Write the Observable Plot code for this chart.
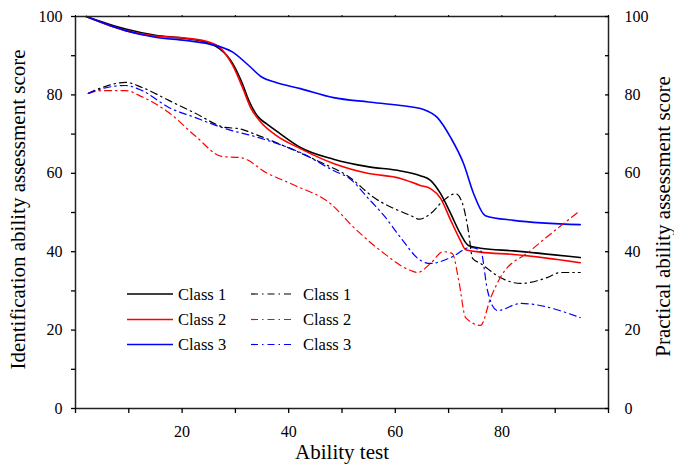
<!DOCTYPE html>
<html><head><meta charset="utf-8">
<script src="https://cdn.jsdelivr.net/npm/d3@7"></script>
<script src="https://cdn.jsdelivr.net/npm/@observablehq/plot@0.6"></script>
<style>body{margin:0;background:#fff}</style>
</head><body><div id="chart"></div>
<script>
// Identification ability assessment score (solid, left axis)
const c1SolidX = [2, 9.4, 15, 20.6, 25, 27, 29.5, 31.3, 32.5, 34.4, 36, 38, 42.2, 48.4, 54.8, 61, 64.7, 66.6, 68.5, 70.4, 72.2, 73.7, 76, 82.2, 94.7];
const c1SolidY = [100, 96.8, 95.2, 94.4, 93.2, 91.8, 88, 82.9, 78.6, 74.2, 72.5, 70.5, 66.6, 63.6, 61.7, 60.6, 59.4, 58.2, 54.8, 49.7, 44.6, 41.6, 40.9, 40.2, 38.5];
const c2SolidX = [2, 9.4, 15, 20.6, 25, 27, 29.5, 31.3, 32.8, 35, 37.5, 42.2, 48.4, 54.8, 61, 64.7, 66.6, 68.5, 70.4, 72.2, 73.2, 76, 82.2, 94.7];
const c2SolidY = [100, 96.4, 95, 94.5, 93.5, 92.2, 87.5, 82, 76.9, 72.7, 69.8, 66.3, 62.5, 60, 58.7, 56.9, 56.1, 53.6, 48, 42.9, 40.5, 39.9, 39.3, 37.2];
const c3SolidX = [2, 9.4, 15, 20.6, 25, 29.5, 32.5, 35, 37.5, 42.2, 48.4, 55, 61, 65.3, 67.9, 70.4, 72.8, 74.7, 76.9, 82.2, 94.7];
const c3SolidY = [100, 96.4, 94.7, 93.9, 93, 90.9, 87.5, 84.5, 83.2, 81.6, 79.3, 78.2, 77.3, 76.3, 74.2, 69.1, 62.5, 54.8, 49.2, 48, 46.9];
// Practical ability assessment score (dash-dot, right axis)
const c1DashX = [2.4, 5, 9.4, 12.5, 17.5, 22.5, 28.1, 30.6, 34, 40.3, 46.5, 51, 56, 62.9, 64.5, 66.6, 69, 71.3, 72.6, 73.7, 74.5, 76, 79.7, 83.5, 88.5, 91, 94.7];
const c1DashY = [80.4, 81.9, 83.2, 81.9, 78.6, 75.3, 71.7, 71.4, 69.8, 66.3, 62.5, 59.4, 53.8, 49.2, 48.3, 49.7, 53, 54.8, 52.3, 45.4, 38.3, 37, 33.4, 31.9, 33.4, 34.7, 34.7];
const c2DashX = [2.4, 5, 9.4, 12.5, 17.5, 22.5, 27.5, 31, 36, 41, 47.8, 52.2, 57.2, 62.9, 64.2, 66.6, 69, 70.7, 71.9, 73.2, 76, 77.9, 79.7, 85.4, 94.7];
const c2DashY = [80.4, 81.1, 81.1, 79.5, 75.5, 69.5, 64.3, 64, 60, 57, 52.3, 46.2, 40.3, 35.2, 34.7, 37, 40, 39.5, 32.7, 23.2, 21.2, 28.3, 33.4, 40.3, 50.5];
const c3DashX = [2.4, 5, 9.4, 12.5, 17.5, 22.5, 28.1, 34.4, 36, 42.2, 48.4, 51.6, 54.8, 58, 61, 64.7, 66.6, 70.4, 74.1, 76, 77.3, 78.2, 79.2, 83.5, 94.7];
const c3DashY = [80.4, 81.6, 82.4, 81.1, 76.8, 74.2, 71.4, 69.1, 68.4, 65.3, 60.7, 58.5, 53.8, 49, 43.6, 37.8, 37, 38.5, 41.1, 40.3, 30.1, 26.3, 25, 26.8, 23.2];

const classNames = ["Class 1", "Class 2", "Class 3"];
const classColors = ["#000000", "#ff0000", "#0000ff"];
const xTicks = [0, 10, 20, 30, 40, 50, 60, 70, 80, 90, 100];
const xTickLabels = [20, 40, 60, 80];
const yTicks = [0, 10, 20, 30, 40, 50, 60, 70, 80, 90, 100];
const yTickLabels = [0, 20, 40, 60, 80, 100];
const xTitle = "Ability test";
const yLeftTitle = "Identification ability assessment score";
const yRightTitle = "Practical ability assessment score";

const DASH = "7,4,1.5,4";
function rows(xs, ys, key, color) { return xs.map((x, i) => ({x, y: ys[i], key, color})); }
const solidRows = [
  ...rows(c1SolidX, c1SolidY, "s1", classColors[0]),
  ...rows(c2SolidX, c2SolidY, "s2", classColors[1]),
  ...rows(c3SolidX, c3SolidY, "s3", classColors[2])
];
const dashRows = [
  ...rows(c1DashX, c1DashY, "d1", classColors[0]),
  ...rows(c2DashX, c2DashY, "d2", classColors[1]),
  ...rows(c3DashX, c3DashY, "d3", classColors[2])
];

const FONT = "Liberation Serif";
const plot = Plot.plot({
  width: 674, height: 467,
  marginLeft: 75, marginRight: 66, marginTop: 16, marginBottom: 59,
  style: {fontFamily: FONT, background: "#fff", color: "#000"},
  x: {domain: [0, 100]},
  y: {domain: [0, 100]},
  color: {type: "identity"},
  marks: [
    Plot.line(solidRows, {x: "x", y: "y", z: "key", stroke: "color", strokeWidth: 1.6, curve: "monotone-x"}),
    Plot.line(dashRows, {x: "x", y: "y", z: "key", stroke: "color", strokeWidth: 1.2, strokeDasharray: DASH, curve: "monotone-x"}),
    Plot.frame({stroke: "#222", strokeWidth: 1.5}),
    Plot.axisX({ticks: xTicks, tickSize: 5, tickPadding: 12, fontSize: 16, fontFamily: FONT, label: null,
      tickFormat: d => xTickLabels.includes(d) ? String(d) : "", strokeWidth: 1.3}),
    Plot.axisX({anchor: "top", ticks: xTicks, tickSize: 2, tickFormat: () => "", label: null}),
    Plot.axisY({anchor: "left", ticks: yTicks, tickSize: 4, tickPadding: 9, fontSize: 16, fontFamily: FONT, label: null,
      tickFormat: d => yTickLabels.includes(d) ? String(d) : "", strokeWidth: 1.3}),
    Plot.axisY({anchor: "right", ticks: yTicks, tickSize: 4, dx: -4, tickFormat: () => "", label: null, strokeWidth: 1.3}),
    Plot.axisY({anchor: "right", ticks: yTicks, tickSize: 0, tickPadding: 16, fontSize: 16, fontFamily: FONT, label: null,
      tickFormat: d => yTickLabels.includes(d) ? String(d) : ""}),
    Plot.text([xTitle], {frameAnchor: "bottom", dy: 50, fontSize: 21, fontFamily: FONT, text: d => d}),
    Plot.text([yLeftTitle], {frameAnchor: "left", textAnchor: "middle", rotate: -90, dx: -57, dy: -3, fontSize: 21, fontFamily: FONT, text: d => d}),
    Plot.text([yRightTitle], {frameAnchor: "right", textAnchor: "middle", rotate: -90, dx: 55, dy: 4, fontSize: 21, fontFamily: FONT, text: d => d})
  ]
});
document.getElementById("chart").appendChild(plot);

// Legend (inside plot area)
const svg = d3.select(plot);
const leg = svg.append("g").attr("font-family", FONT).attr("font-size", 16.5).attr("text-anchor", "start");
const rowY = [294, 319.5, 344.5];
classNames.forEach((name, i) => {
  leg.append("line").attr("x1", 127).attr("x2", 173).attr("y1", rowY[i]).attr("y2", rowY[i])
    .attr("stroke", classColors[i]).attr("stroke-width", 1.6);
  leg.append("text").attr("x", 178).attr("y", rowY[i]).attr("dy", "0.35em").text(name);
  leg.append("line").attr("x1", 251).attr("x2", 293).attr("y1", rowY[i]).attr("y2", rowY[i])
    .attr("stroke", classColors[i]).attr("stroke-width", 1.2).attr("stroke-dasharray", DASH);
  leg.append("text").attr("x", 303).attr("y", rowY[i]).attr("dy", "0.35em").text(name);
});
</script>
</body></html>
